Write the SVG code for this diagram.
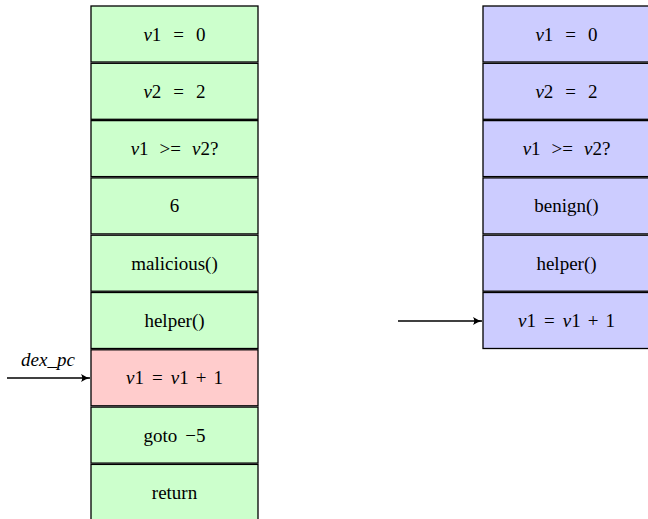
<svg xmlns="http://www.w3.org/2000/svg" width="648" height="519" viewBox="0 0 648 519" font-family="Liberation Serif, serif" font-size="19">
<style>
rect{stroke:#000;stroke-width:1.3}
.g{fill:#ccffcc}.r{fill:#ffcccc}.b{fill:#ccccff}
text{text-anchor:middle;fill:#000}
.i{font-style:italic}
.c line{stroke:#000;stroke-width:1.3}
</style>
<defs>
<marker id="ah" markerWidth="10" markerHeight="10" refX="9" refY="5" orient="auto" markerUnits="userSpaceOnUse">
<path d="M0,1 Q4.5,4 9,5 Q4.5,6 0,9 Q2.5,5 0,1Z" fill="#000"/>
</marker>
</defs>
<g id="left">
<g id="l0"><rect class="g" x="91" y="6" width="167" height="56"/><text x="174.5" y="40.5"><tspan class="i">v</tspan>1<tspan dx="12">=</tspan><tspan dx="12">0</tspan></text></g>
<g id="l1"><rect class="g" x="91" y="63.3" width="167" height="56"/><text x="174.5" y="97.8"><tspan class="i">v</tspan>2<tspan dx="12">=</tspan><tspan dx="12">2</tspan></text></g>
<g id="l2"><rect class="g" x="91" y="120.6" width="167" height="56"/><text x="174.5" y="155.1"><tspan class="i">v</tspan>1<tspan dx="11">&gt;=</tspan><tspan dx="11" class="i">v</tspan>2?</text></g>
<g id="l3"><rect class="g" x="91" y="177.9" width="167" height="56"/><text x="174.5" y="212.4">6</text></g>
<g id="l4"><rect class="g" x="91" y="235.2" width="167" height="56"/><text x="174.5" y="269.7">malicious()</text></g>
<g id="l5"><rect class="g" x="91" y="292.5" width="167" height="56"/><text x="174.5" y="327">helper()</text></g>
<g id="l6"><rect class="r" x="91" y="349.8" width="167" height="56"/><text x="174.5" y="384.3"><tspan class="i">v</tspan>1<tspan dx="8">=</tspan><tspan dx="8" class="i">v</tspan>1<tspan dx="7">+</tspan><tspan dx="7">1</tspan></text></g>
<g id="l7"><rect class="g" x="91" y="407.1" width="167" height="56"/><text x="174.5" y="441.6">goto<tspan dx="8">−5</tspan></text></g>
<g id="l8"><rect class="g" x="91" y="464.4" width="167" height="56"/><text x="174.5" y="498.9">return</text></g>
</g>
<g id="right">
<g id="r0"><rect class="b" x="483" y="6" width="167" height="56"/><text x="566.5" y="40.5"><tspan class="i">v</tspan>1<tspan dx="12">=</tspan><tspan dx="12">0</tspan></text></g>
<g id="r1"><rect class="b" x="483" y="63.3" width="167" height="56"/><text x="566.5" y="97.8"><tspan class="i">v</tspan>2<tspan dx="12">=</tspan><tspan dx="12">2</tspan></text></g>
<g id="r2"><rect class="b" x="483" y="120.6" width="167" height="56"/><text x="566.5" y="155.1"><tspan class="i">v</tspan>1<tspan dx="11">&gt;=</tspan><tspan dx="11" class="i">v</tspan>2?</text></g>
<g id="r3"><rect class="b" x="483" y="177.9" width="167" height="56"/><text x="566.5" y="212.4">benign()</text></g>
<g id="r4"><rect class="b" x="483" y="235.2" width="167" height="56"/><text x="566.5" y="269.7">helper()</text></g>
<g id="r5"><rect class="b" x="483" y="292.5" width="167" height="56"/><text x="566.5" y="327"><tspan class="i">v</tspan>1<tspan dx="8">=</tspan><tspan dx="8" class="i">v</tspan>1<tspan dx="7">+</tspan><tspan dx="7">1</tspan></text></g>
</g>
<g id="connectors" class="c">
<line x1="7" y1="378" x2="90" y2="378" marker-end="url(#ah)"/>
<line x1="398" y1="321" x2="482" y2="321" marker-end="url(#ah)"/>
</g>
<g id="label"><text class="i" x="48" y="366">dex_pc</text></g>
</svg>
